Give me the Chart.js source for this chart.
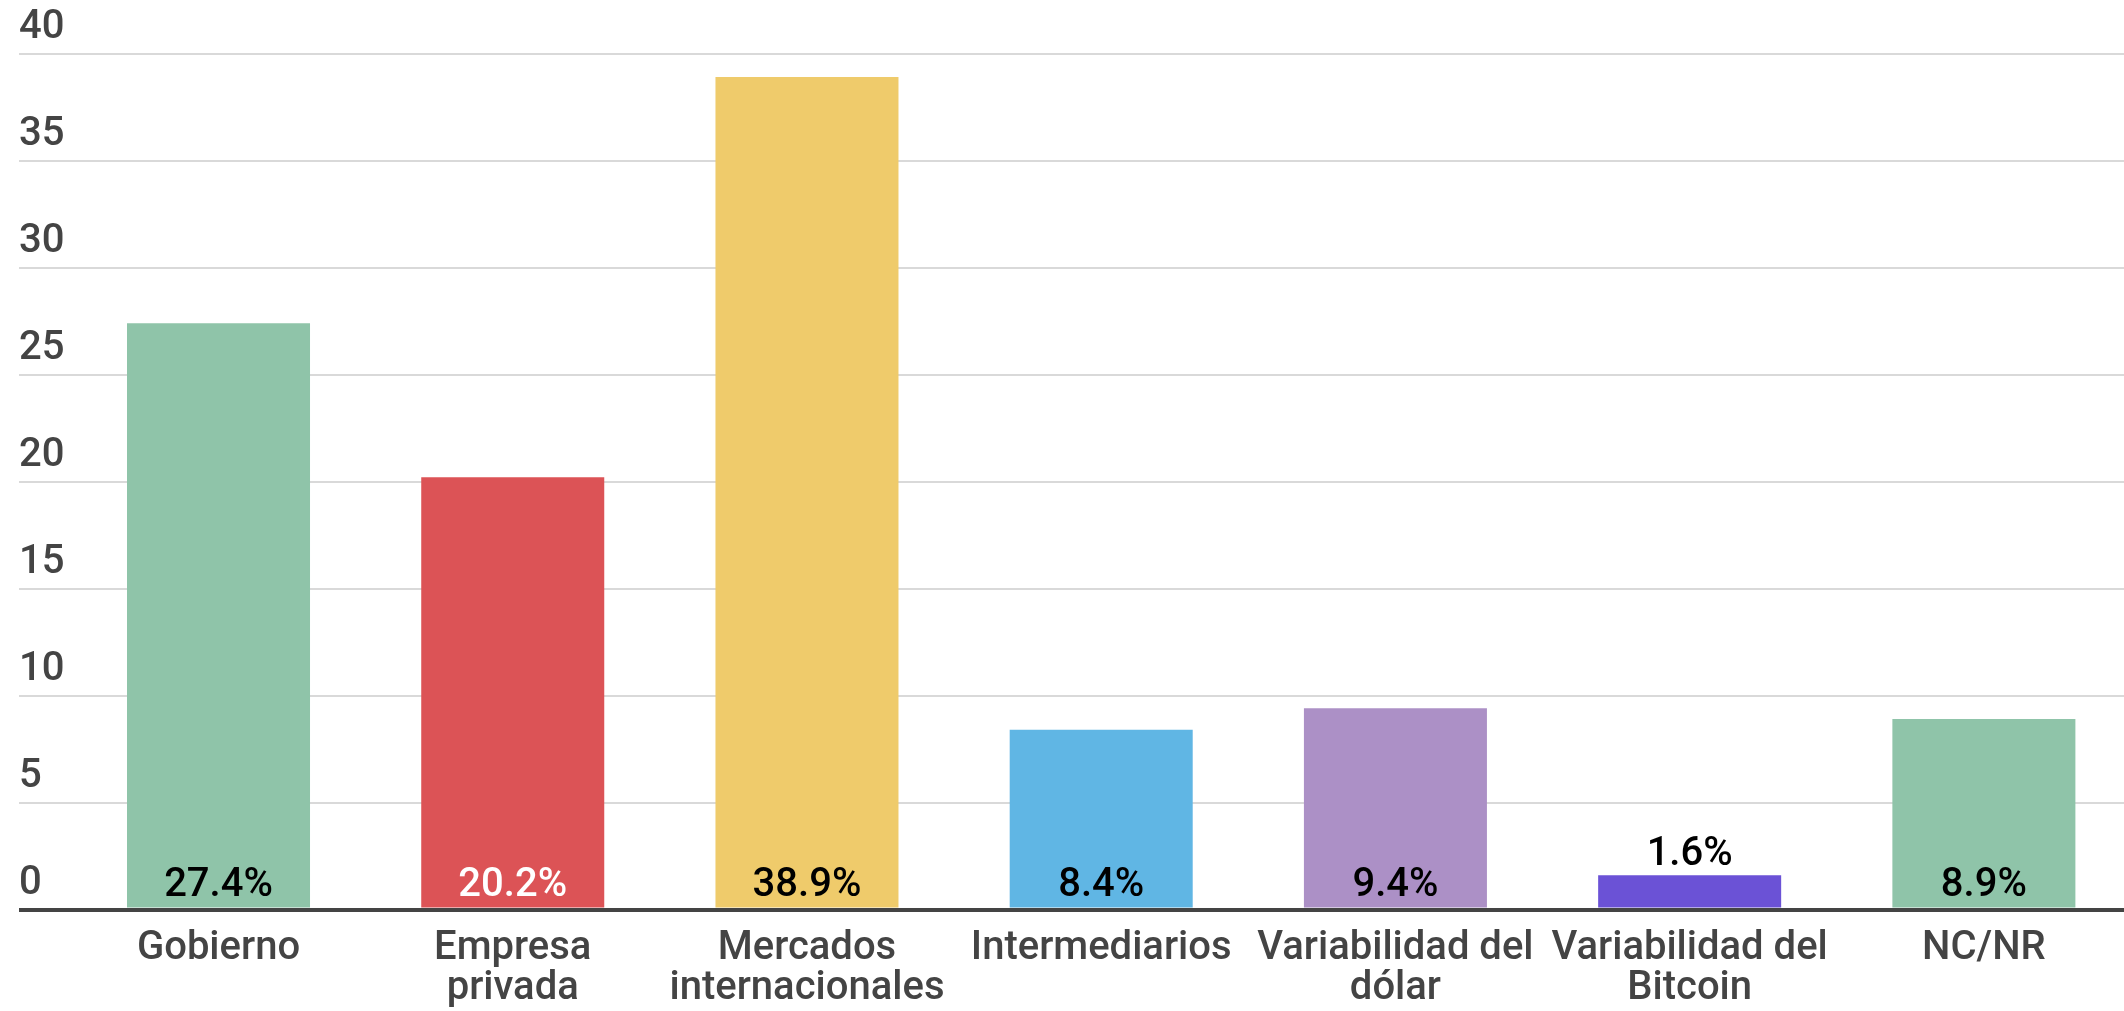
<!DOCTYPE html>
<html>
<head>
<meta charset="utf-8">
<script src="https://cdn.jsdelivr.net/npm/chart.js@4/dist/chart.umd.min.js"></script>
<style>
  html, body { margin: 0; padding: 0; background: #ffffff; overflow: hidden; }
  #wrap { position: absolute; left: 0; top: 0; width: 2131px; height: 1011px; }
</style>
</head>
<body>
<div id="wrap"><canvas id="c" width="2131" height="1011"></canvas></div>
<script>
// ---- data ----
const categories = [
  ['Gobierno'],
  ['Empresa', 'privada'],
  ['Mercados', 'internacionales'],
  ['Intermediarios'],
  ['Variabilidad del', 'dólar'],
  ['Variabilidad del', 'Bitcoin'],
  ['NC/NR']
];
const values = [27.4, 20.2, 38.9, 8.4, 9.4, 1.6, 8.9];
const yMin = 0;
const yMax = 40;
const yStep = 5;

// ---- styles ----
const barColors = ['#8FC4A9', '#DC5356', '#EFCB6B', '#60B6E4', '#AC90C6', '#6B52D6', '#8FC4A9'];
const valueLabelColors = ['#000000', '#ffffff', '#000000', '#000000', '#000000', '#000000', '#000000'];
const FONT = 'Roboto';

const valueLabels = {
  id: 'valueLabels',
  afterDatasetsDraw(chart) {
    const ctx = chart.ctx;
    const meta = chart.getDatasetMeta(0);
    ctx.save();
    ctx.font = '500 40px ' + FONT;
    ctx.textAlign = 'center';
    ctx.textBaseline = 'alphabetic';
    meta.data.forEach((bar, i) => {
      const txt = values[i].toFixed(1) + '%';
      const h = bar.base - bar.y;
      let y;
      if (h > 60) {
        y = bar.base - 11.5;
        ctx.fillStyle = valueLabelColors[i];
      } else {
        y = bar.y - 10;
        ctx.fillStyle = '#000000';
      }
      ctx.fillText(txt, bar.x, y);
    });
    ctx.restore();
  }
};

new Chart(document.getElementById('c'), {
  type: 'bar',
  data: {
    labels: categories,
    datasets: [{
      data: values,
      backgroundColor: barColors,
      borderWidth: 0,
      categoryPercentage: 1,
      barPercentage: 0.622
    }]
  },
  options: {
    responsive: false,
    animation: false,
    devicePixelRatio: 1,
    layout: { padding: { left: 19, top: 53.5, right: 0, bottom: 0 } },
    plugins: {
      legend: { display: false },
      tooltip: { enabled: false }
    },
    scales: {
      x: {
        grid: { display: false },
        border: { display: true, color: '#444444', width: 4, z: 1 },
        afterFit: (s) => { s.height = 101.5; },
        ticks: {
          autoSkip: false,
          maxRotation: 0,
          padding: 11,
          color: '#444444',
          font: { family: FONT, size: 40, weight: '500', lineHeight: 1.0 }
        }
      },
      y: {
        min: yMin,
        max: yMax,
        afterFit: (s) => { s.width = 52.4; },
        border: { display: false },
        grid: {
          drawTicks: true,
          tickLength: 52.4,
          color: (c) => (c.tick && c.tick.value === 0) ? '#444444' : '#d9d9d9',
          lineWidth: (c) => (c.tick && c.tick.value === 0) ? 4 : 2
        },
        ticks: {
          stepSize: yStep,
          crossAlign: 'far',
          padding: 0,
          labelOffset: -26,
          color: '#444444',
          font: { family: FONT, size: 40, weight: '500' }
        }
      }
    }
  },
  plugins: [valueLabels]
});
</script>
</body>
</html>
